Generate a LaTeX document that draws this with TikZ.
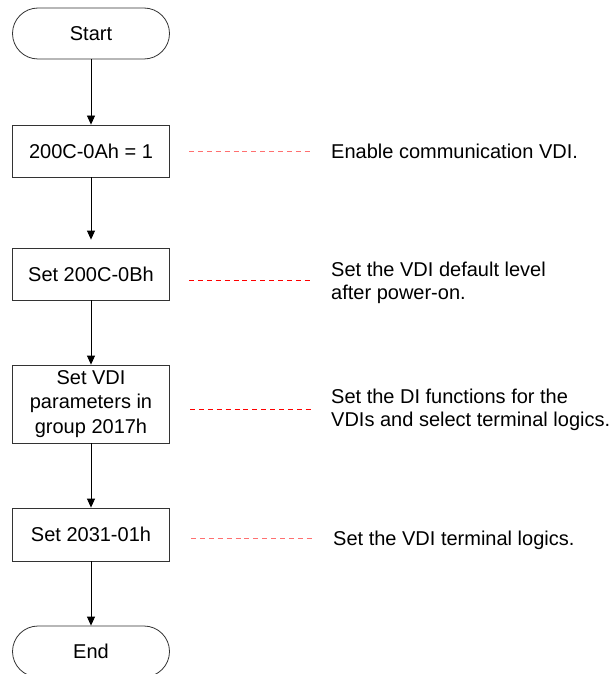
\documentclass[tikz,border=0pt]{standalone}
\usepackage{fontspec}
\setmainfont{Liberation Sans}
\usetikzlibrary{arrows.meta}
\definecolor{lightred}{HTML}{FF7070}
\definecolor{boxline}{HTML}{333333}
\tikzset{
  terminal/.style={draw=boxline, line width=0.8pt, rectangle, rounded corners=25.5pt,
    minimum width=157pt, minimum height=51pt, inner sep=0pt, font=\fontsize{20}{24.5}\selectfont},
  procbox/.style={draw=boxline, line width=0.8pt, rectangle, minimum width=157pt,
    inner sep=0pt, align=center, font=\fontsize{20}{24.5}\selectfont},
  note/.style={anchor=west, inner sep=0pt, align=left, font=\fontsize{20}{23}\selectfont},
  flow/.style={draw=black, line width=0.8pt, -{Triangle[length=9pt,width=8pt]}},
  guide/.style={line width=1.1pt, dash pattern=on 5pt off 3.9pt},
}
\begin{document}
\begin{tikzpicture}[x=1pt,y=-1pt]
\useasboundingbox (0,0) rectangle (614,674);
% flow nodes
\node[terminal] (start) at (91,33.5) {Start};
\node[procbox, minimum height=52pt] (b1) at (91,151) {200C-0Ah = 1};
\node[procbox, minimum height=52pt] (b2) at (91,274) {Set 200C-0Bh};
\node[procbox, minimum height=78pt] (b3) at (91,404) {Set VDI\\parameters in\\group 2017h};
\node[procbox, minimum height=53pt] (b4) at (91,534.5) {Set 2031-01h};
\node[terminal] (end) at (91,651.5) {End};
% notes
\node[note] (n1) at (331,151) {Enable communication VDI.};
\node[note] (n2) at (331,282.5) {Set the VDI default level\\after power-on.};
\node[note] (n3) at (331,410) {Set the DI functions for the\\VDIs and select terminal logics.};
\node[note] (n4) at (333,540) {Set the VDI terminal logics.};
% guide end points
\coordinate (g1a) at (189,151.5); \coordinate (g1b) at (313,151.5);
\coordinate (g2a) at (189,280.5); \coordinate (g2b) at (313,280.5);
\coordinate (g3a) at (190,409.5); \coordinate (g3b) at (313,409.5);
\coordinate (g4a) at (191,538.5); \coordinate (g4b) at (313,538.5);
% connectors
\draw[flow] (start.south) -- (b1.north);
\draw[flow, shorten >=8pt] (b1.south) -- (b2.north);
\draw[flow] (b2.south) -- (b3.north);
\draw[flow] (b3.south) -- (b4.north);
\draw[flow] (b4.south) -- (end.north);
% dashed guides
\draw[guide, draw=lightred] (g1a) -- (g1b);
\draw[guide, draw=red] (g2a) -- (g2b);
\draw[guide, draw=red] (g3a) -- (g3b);
\draw[guide, draw=lightred] (g4a) -- (g4b);
\end{tikzpicture}
\end{document}
